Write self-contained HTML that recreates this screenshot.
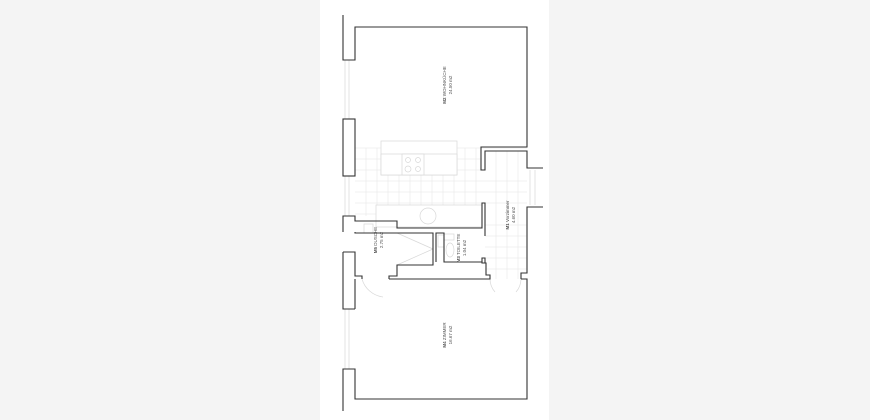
<!DOCTYPE html>
<html><head><meta charset="utf-8"><style>
html,body{margin:0;padding:0;background:#f4f4f4;}
svg{display:block}
text{font-family:"Liberation Sans",sans-serif;font-size:4.5px;fill:#555}
</style></head><body>
<svg width="870" height="420" viewBox="0 0 870 420" xmlns="http://www.w3.org/2000/svg">
<rect x="0" y="0" width="870" height="420" fill="#f4f4f4"/>
<rect x="320" y="0" width="229" height="420" fill="#fff"/>
<!-- tiles -->
<g stroke="#e6e6e6" stroke-width="0.6" fill="none">
<path d="M355 148H527 M355 159H482 M355 170H482 M355 181H527 M355 192H527 M355 203H527 M355 214H482 M485 225H527 M485 236H527 M485 247H527 M485 258H527 M485 269H527"/>
<path d="M366 148V216 M377 148V216 M388 175V216 M399 175V216 M410 175V216 M421 175V216 M432 175V216 M443 175V216 M454 175V216 M465 148V216 M476 148V216 M496 151V279 M507 151V279 M518 151V279"/>
</g>
<!-- fixtures -->
<g stroke="#d8d8d8" stroke-width="0.7" fill="#fff">
<rect x="381" y="141" width="76" height="34"/>
<rect x="381" y="154" width="76" height="21"/>
<rect x="402" y="154" width="22" height="21"/>
<circle cx="408" cy="160" r="2.5"/><circle cx="418" cy="160" r="2.5"/>
<circle cx="408" cy="169" r="3"/><circle cx="418" cy="169" r="2.5"/>
<rect x="376" y="205" width="106" height="22"/>
<circle cx="428" cy="216" r="8"/>
<rect x="364" y="224" width="9" height="9"/>
<path d="M397 233 L433 249 M397 265 L433 249" fill="none"/>
<rect x="438" y="235" width="6" height="12"/>
<rect x="444" y="234" width="10" height="6"/>
<ellipse cx="450" cy="250" rx="4" ry="7"/>
<path d="M345 60V119 M349 60V119 M345 176V216 M349 176V216 M345 309V369 M349 309V369 M530 170V205 M535 170V205" fill="none"/>
<path d="M362 279 A25 25 0 0 0 383 297 M490 279 A20 20 0 0 0 495 292 M521 279 A20 20 0 0 1 516 292" fill="none"/>
</g>
<!-- walls -->
<g stroke="#333" stroke-width="1.1" fill="none">
<path d="M343 15V60H355V27H527V147H481V170H485V151H527V168H543"/>
<rect x="343" y="119" width="12" height="57"/>
<path d="M543 207H527V273H521V279"/>
<path d="M343 232V216H355V221H397V228H482V203H485V236"/>
<path d="M355 232V233H433V265H397V276H389V279"/>
<path d="M343 252H355V276H362V279"/>
<path d="M343 252V309H355"/>
<path d="M389 279H490V275H486V263H482V262H444V233H436V262"/>
<path d="M482 262V258H485V263"/>
<path d="M521 279H527V399H355V369H343V411"/>
<path d="M355 279V309"/>
</g>
<!-- labels -->
<text transform="translate(446,85) rotate(-90)" text-anchor="middle"><tspan font-weight="bold">M2</tspan> WOHNKÜCHE</text>
<text transform="translate(452,85) rotate(-90)" text-anchor="middle">24.50 m2</text>
<text transform="translate(509,215) rotate(-90)" text-anchor="middle"><tspan font-weight="bold">M1</tspan> Vorzimmer</text>
<text transform="translate(515,215) rotate(-90)" text-anchor="middle">4.60 m2</text>
<text transform="translate(377,240) rotate(-90)" text-anchor="middle"><tspan font-weight="bold">M5</tspan> DUSCHE</text>
<text transform="translate(383,240) rotate(-90)" text-anchor="middle">2.75 m2</text>
<text transform="translate(460,248) rotate(-90)" text-anchor="middle"><tspan font-weight="bold">M3</tspan> TOILETTE</text>
<text transform="translate(466,248) rotate(-90)" text-anchor="middle">1.04 m2</text>
<text transform="translate(446,335) rotate(-90)" text-anchor="middle"><tspan font-weight="bold">M4</tspan> ZIMMER</text>
<text transform="translate(452,335) rotate(-90)" text-anchor="middle">16.67 m2</text>
</svg>
</body></html>
